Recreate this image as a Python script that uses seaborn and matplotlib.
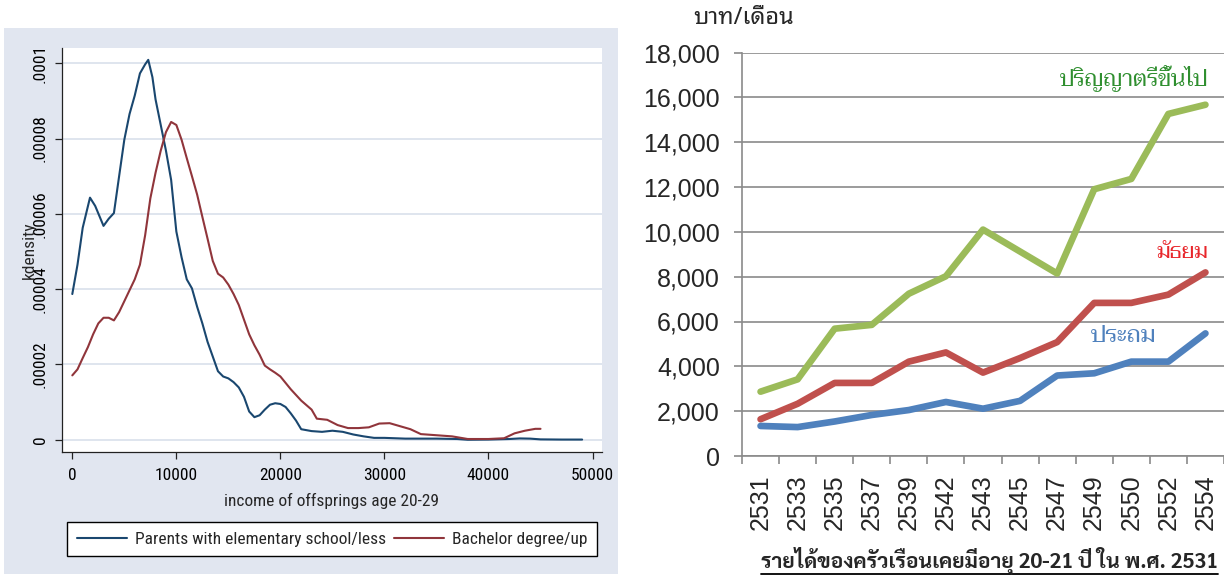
import matplotlib
matplotlib.use("Agg")
import matplotlib.pyplot as plt
import numpy as np
import seaborn as sns
from matplotlib import font_manager
from matplotlib.lines import Line2D
from matplotlib.patches import Rectangle

# left panel: kernel densities (density in 1e-6)
elem_x = [0, 500, 1000, 1700, 2200, 3000, 3500, 4000, 4500, 5000, 5500, 6000,
          6500, 7000, 7300, 7700, 8000, 8500, 9000, 9500, 10000, 10500, 11000,
          11500, 12000, 12500, 13000, 13500, 14000, 14500, 15000, 15500, 16000,
          16500, 17000, 17500, 18000, 18500, 19000, 19500, 20000, 20500, 21000,
          21500, 22000, 23000, 24000, 25000, 26000, 27000, 28000, 29000, 30000,
          32000, 35000, 37000, 38000, 40000, 42000, 43000, 44000, 45000, 47000,
          49000]
elem_y = [38.7, 46.5, 56.3, 64.3, 62.1, 56.8, 58.7, 60.2, 70.0, 79.7, 86.5, 91.4,
          97.3, 99.7, 100.9, 96.3, 90.4, 83.6, 76.8, 69.0, 55.3, 48.5, 42.6,
          40.2, 35.3, 30.9, 26.0, 22.1, 18.2, 16.8, 16.3, 15.3, 13.9,
          11.4, 7.5, 6.0, 6.5, 8.0, 9.3, 9.7, 9.5, 8.7, 7.0,
          5.1, 2.8, 2.3, 2.1, 2.4, 2.1, 1.4, 0.9, 0.5, 0.5,
          0.3, 0.3, 0.2, 0.0, 0.05, 0.2, 0.35, 0.3, 0.1, 0.05,
          0.05]

bach_x = [0, 500, 1000, 1500, 2000, 2500, 3000, 3500, 4000, 4500, 5000, 5500,
          6000, 6500, 7000, 7500, 8000, 8500, 9000, 9500, 10000, 10500, 11000,
          11500, 12000, 12500, 13000, 13500, 14000, 14500, 15000, 15500, 16000,
          16500, 17000, 17500, 18000, 18500, 19000, 19500, 20000, 21000, 22000,
          23000, 23500, 24500, 25500, 26500, 27500, 28500, 29500, 30500, 31500,
          32500, 33500, 35000, 36500, 38000, 40000, 41500, 42500, 43500, 44500,
          45000]
bach_y = [17.1, 18.7, 21.7, 24.6, 28.0, 30.9, 32.4, 32.4, 31.7, 33.9, 36.8, 39.7,
          42.6, 46.5, 54.3, 64.1, 70.9, 76.8, 81.7, 84.4, 83.6, 79.7, 74.8,
          70.0, 65.1, 59.2, 53.4, 47.5, 44.1, 43.1, 41.2, 38.7, 35.8,
          31.9, 28.0, 25.1, 22.6, 19.7, 18.7, 17.8, 16.8, 13.4, 10.4,
          8.0, 5.6, 5.3, 3.9, 3.1, 3.1, 3.3, 4.3, 4.4, 3.6,
          2.8, 1.5, 1.2, 0.9, 0.2, 0.2, 0.4, 1.7, 2.4, 2.9,
          2.9]

kd_xticks = [0, 10000, 20000, 30000, 40000, 50000]
kd_yticks = [0, 0.00002, 0.00004, 0.00006, 0.00008, 0.0001]
kd_ylabels = ["0", ".00002", ".00004", ".00006", ".00008", ".0001"]
kd_legend = ["Parents with elementary school/less", "Bachelor degree/up"]

# right panel: household income (baht / month)
years = ["2531", "2533", "2535", "2537", "2539", "2542", "2543", "2545",
         "2547", "2549", "2550", "2552", "2554"]
bachelor = [2870, 3420, 5680, 5850, 7240, 8020, 10100, 9120, 8140, 11900,
            12360, 15260, 15670]
secondary = [1640, 2330, 3260, 3260, 4210, 4620, 3720, 4370, 5080, 6830,
             6830, 7200, 8190]
primary = [1340, 1290, 1540, 1830, 2050, 2410, 2110, 2460, 3590, 3690,
           4210, 4210, 5470]
inc_yticks = [0, 2000, 4000, 6000, 8000, 10000, 12000, 14000, 16000, 18000]


def pick_font(names, bold=False, fallback="DejaVu Sans"):
    fonts = font_manager.fontManager.ttflist
    for n in names:
        weights = [f.weight for f in fonts if f.name == n]
        if not weights:
            continue
        if bold and not any(w in ("bold", 700, 800) for w in weights):
            continue
        return n
    return fallback


sns.set_theme(style="white")
plt.rcParams["font.family"] = ["Roboto Condensed", "DejaVu Sans"]

arial = "Liberation Sans"
thai_sans = pick_font(["Noto Sans Thai Looped", "Sarabun", "Noto Sans Thai"])
thai_bold = pick_font(["Noto Sans Thai Looped", "Sarabun", "Noto Sans Thai"], bold=True)
thai_serif = pick_font(["Taviraj", "Noto Serif Thai", "Trirong", "Sarabun"])

W, H = 1224, 576
fig = plt.figure(figsize=(12.24, 5.76), dpi=100)


def fx(px):
    return px / W


def fy(py):
    return 1 - py / H


# Stata graph region
fig.add_artist(Rectangle((fx(4), fy(574)), fx(618) - fx(4), fy(27.5) - fy(574),
                         transform=fig.transFigure, facecolor="#E1E6F0",
                         edgecolor="none", zorder=0))

ax1 = fig.add_axes([fx(62), fy(451.8), fx(602) - fx(62), fy(47.8) - fy(451.8)])
ax1.set_facecolor("white")
sns.lineplot(x=elem_x, y=np.array(elem_y) * 1e-6, ax=ax1, color="#1A476F",
             lw=1.5, sort=False)
sns.lineplot(x=bach_x, y=np.array(bach_y) * 1e-6, ax=ax1, color="#90353B",
             lw=1.5, sort=False)
if ax1.get_legend():
    ax1.get_legend().remove()
ax1.set_xlim(-990, 50910)
ax1.set_ylim(-3.2e-6, 1.041e-4)
ax1.set_xticks(kd_xticks, [str(v) for v in kd_xticks])
ax1.set_yticks(kd_yticks, kd_ylabels)
ax1.grid(axis="y", color="#DCE3ED", lw=1.3)
ax1.grid(axis="x", visible=False)
ax1.set_axisbelow(True)
for s in ["top", "right"]:
    ax1.spines[s].set_visible(False)
for s in ["left", "bottom"]:
    ax1.spines[s].set_color("#222222")
    ax1.spines[s].set_linewidth(0.9)
ax1.tick_params(axis="both", direction="out", length=5, width=0.9,
                color="#222222", labelsize=12.5, labelcolor="black")
ax1.tick_params(axis="x", pad=7, bottom=True)
ax1.tick_params(axis="y", pad=5, left=True, labelrotation=90)
for t in ax1.get_yticklabels():
    t.set_va("center")
ax1.set_xlabel("income of offsprings age 20-29", fontsize=12.5, labelpad=7)
ax1.set_ylabel("kdensity", fontsize=12.5)
ax1.yaxis.set_label_coords((37 - 62) / 540, 0.5)

handles = [Line2D([], [], color="#1A476F", lw=1.5),
           Line2D([], [], color="#90353B", lw=1.5)]
leg = fig.legend(handles, kd_legend, loc="center",
                 bbox_to_anchor=(fx(332.3), fy(539)), ncol=2, frameon=True,
                 fancybox=False, framealpha=1, edgecolor="black",
                 fontsize=12.5, handlelength=2.9, handletextpad=0.45,
                 columnspacing=0.45, borderpad=0.55, borderaxespad=0)
leg.get_frame().set_linewidth(1.0)

# Excel line chart
ax2 = fig.add_axes([fx(742), fy(456), fx(1224) - fx(742), fy(52.5) - fy(456)])
pos = np.arange(len(years))
grid_c = "#8A8A8A"
for vals, col in [(bachelor, "#9BBB59"), (secondary, "#C0504D"), (primary, "#4F81BD")]:
    sns.lineplot(x=pos, y=vals, ax=ax2, color=col, lw=4.8,
                 solid_capstyle="round", solid_joinstyle="round")
if ax2.get_legend():
    ax2.get_legend().remove()
ax2.set_xlim(-0.5, len(years) - 0.5)
ax2.set_ylim(0, 18000)
ax2.set_yticks(inc_yticks, [f"{v:,}" for v in inc_yticks], fontfamily=arial)
ax2.set_xticks(pos, years, fontfamily=arial)
ax2.set_xticks(np.arange(len(years) + 1) - 0.5, minor=True)
ax2.grid(axis="y", color=grid_c, lw=1.2)
ax2.grid(axis="x", visible=False)
ax2.set_axisbelow(True)
for s in ["top", "right"]:
    ax2.spines[s].set_visible(False)
for s in ["left", "bottom"]:
    ax2.spines[s].set_color(grid_c)
    ax2.spines[s].set_linewidth(1.2)
ax2.tick_params(axis="y", left=True, direction="out", length=6, width=1.2,
                color=grid_c, pad=10, labelsize=18)
ax2.tick_params(axis="x", which="major", bottom=False, length=0, pad=13,
                labelsize=18, labelrotation=90)
ax2.tick_params(axis="x", which="minor", bottom=True, direction="out",
                length=6, width=1.2, color=grid_c)
ax2.set_xlabel("")
ax2.set_ylabel("")

fig.text(fx(743.5), fy(17.6), "บาท/เดือน", ha="center", va="center",
         fontsize=17, family=[thai_sans, "DejaVu Sans"])
fig.text(fx(1208), fy(79), "ปริญญาตรีขึ้นไป", ha="right", va="center",
         fontsize=16, color="#2F8F2F", family=[thai_serif, "DejaVu Sans"])
fig.text(fx(1208), fy(253), "มัธยม", ha="right", va="center",
         fontsize=15.5, color="#E8262B", family=[thai_serif, "DejaVu Sans"])
fig.text(fx(1124), fy(336), "ประถม", ha="center", va="center",
         fontsize=17, color="#4F81BD", family=[thai_serif, "DejaVu Sans"])
title = fig.text(fx(1218), fy(561), "รายได้ของครัวเรือนเคยมีอายุ 20-21 ปี ใน พ.ศ. 2531",
                 ha="right", va="center", fontsize=15.2, fontweight="bold",
                 family=[thai_bold, "DejaVu Sans"])

# underline under the bottom caption
fig.canvas.draw()
bb = title.get_window_extent()
fig.add_artist(Line2D([bb.x0 / W, bb.x1 / W], [fy(573.5)] * 2,
                      transform=fig.transFigure, color="black", lw=1.3))

fig.savefig("out.png", dpi=100)
